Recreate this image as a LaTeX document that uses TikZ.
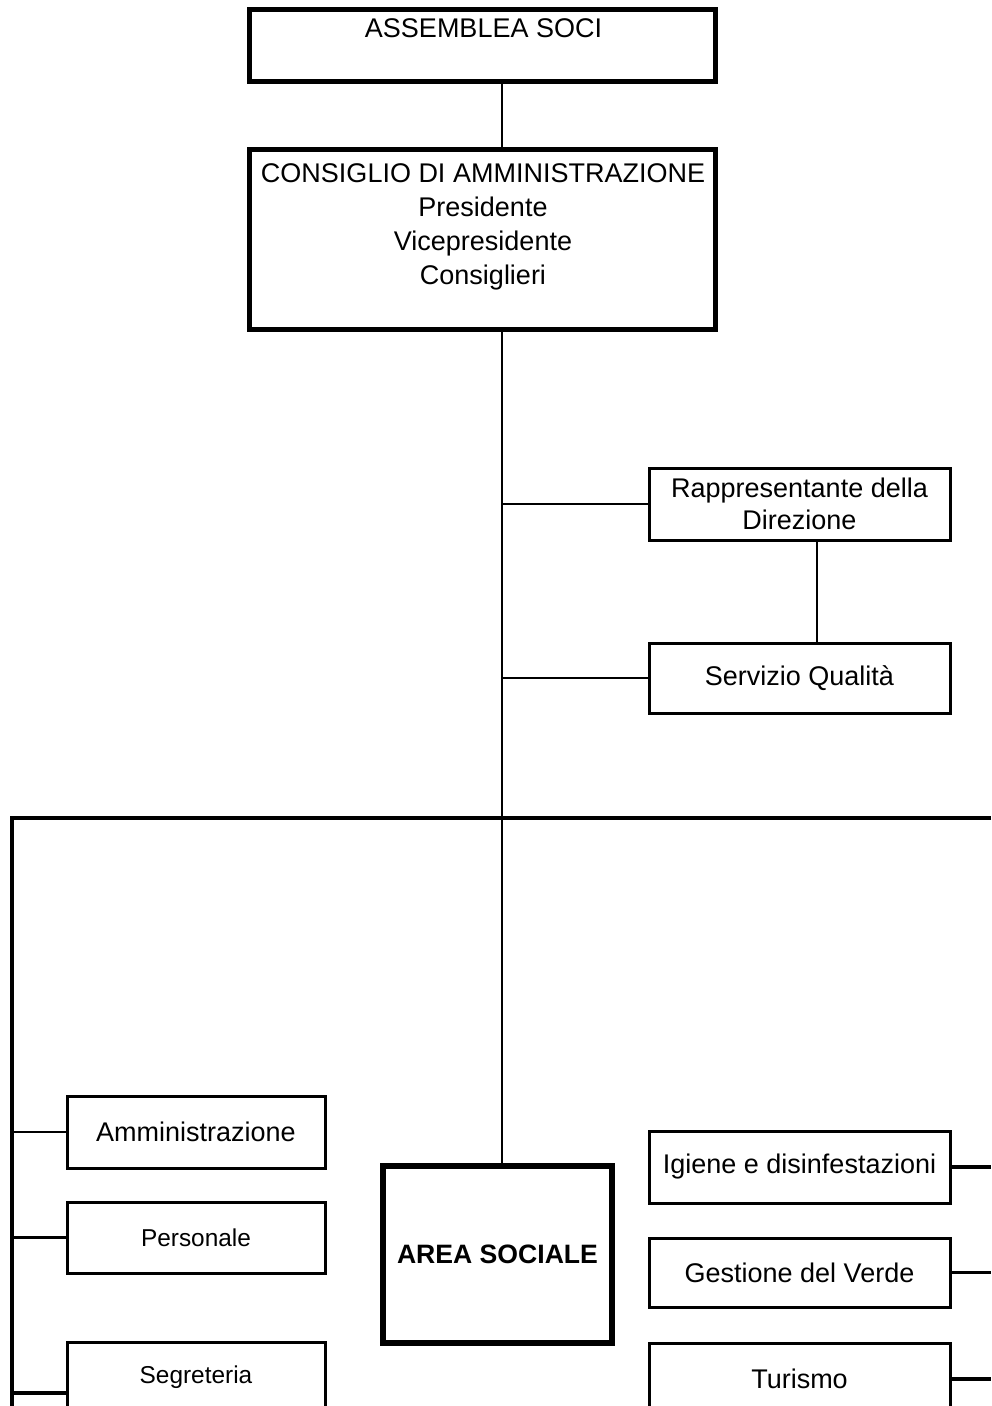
\documentclass[tikz,border=0pt]{standalone}
\usepackage{fontspec}
\setmainfont{Liberation Sans}
\begin{document}
\begin{tikzpicture}[x=0.5pt,y=-0.5pt,
  txt/.style={inner sep=0pt,align=center,font=\fontsize{13.5}{17}\selectfont},
  smalltxt/.style={inner sep=0pt,align=center,font=\fontsize{12.2}{15}\selectfont},
  bigbox/.style={draw,line width=2.5pt,inner sep=0pt},
  box/.style={draw,line width=1.5pt,inner sep=0pt,minimum width=150.5pt,minimum height=36pt},
  lbox/.style={draw,line width=1.5pt,inner sep=0pt,minimum width=129pt,minimum height=36pt},
  conn/.style={line width=1.2pt},
  busline/.style={line width=1.6pt}]
\useasboundingbox (0,0) rectangle (991,1406);
\clip (0,0) rectangle (991,1406);
\fill[white] (0,0) rectangle (991,1406);

% top boxes
\node[bigbox,minimum width=233pt,minimum height=36pt] (as) at (482,46) {};
\node[txt] (astxt) at (483.5,28) {ASSEMBLEA SOCI};
\node[bigbox,minimum width=233pt,minimum height=90pt] (cda) at (482,240) {};
\node[txt,anchor=north] (cdatxt) at (483,163) {CONSIGLIO DI AMMINISTRAZIONE\\Presidente\\Vicepresidente\\Consiglieri};

% staff boxes
\node[box,align=center,font=\fontsize{13.5}{16}\selectfont] (rd) at (799.5,504) {Rappresentante della\\Direzione};
\node[box,minimum height=35pt,font=\fontsize{13.5}{17}\selectfont] (sq) at (799.5,678) {Servizio Qualità};

% left column
\node[lbox,font=\fontsize{13.5}{17}\selectfont] (amm) at (196,1132) {Amministrazione};
\node[lbox,minimum height=35.5pt,font=\fontsize{12.2}{15}\selectfont] (pers) at (196,1237.5) {Personale};
\node[lbox,minimum height=36pt] (segr) at (196,1378) {};
\node[smalltxt] (segrtxt) at (196,1377) {Segreteria};

% central area
\node[draw,line width=3pt,inner sep=0pt,minimum width=114.5pt,minimum height=88.5pt,
      font=\bfseries\fontsize{13.3}{16}\selectfont] (area) at (497.5,1254.5) {AREA SOCIALE};

% right column
\node[box,font=\fontsize{13.5}{17}\selectfont] (ig) at (799.5,1167) {Igiene e disinfestazioni};
\node[box,minimum height=34.5pt,font=\fontsize{13.5}{17}\selectfont] (gv) at (799.5,1272.5) {Gestione del Verde};
\node[box,font=\fontsize{13.5}{17}\selectfont] (tu) at (799.5,1379) {Turismo};

% coordinates
\coordinate (spine) at (502,0);
\coordinate (rdx) at (817,0);
\coordinate (bl) at (12,818);
\coordinate (br) at (991,818);
\coordinate (lbot) at (12,1406);
\coordinate (sj) at (12,1393);

% connectors
\draw[conn] (as.south -| spine) -- (cda.north -| spine);
\draw[conn] (cda.south -| spine) -- (area.north -| spine);
\draw[conn] (rd.west -| spine) -- (rd.west);
\draw[conn] (sq.west -| spine) -- (sq.west);
\draw[conn] (rd.south -| rdx) -- (sq.north -| rdx);
\draw[busline] (br) -- (bl) -- (lbot);
\draw[conn] (amm.west -| bl) -- (amm.west);
\draw[conn] (pers.west -| bl) -- (pers.west);
\draw[line width=2pt] (sj) -- (sj -| segr.west);
\draw[line width=2.2pt] (ig.east) -- (ig.east -| br);
\draw[line width=1.5pt] (gv.east) -- (gv.east -| br);
\draw[line width=2pt] (tu.east) -- (tu.east -| br);
\end{tikzpicture}
\end{document}
